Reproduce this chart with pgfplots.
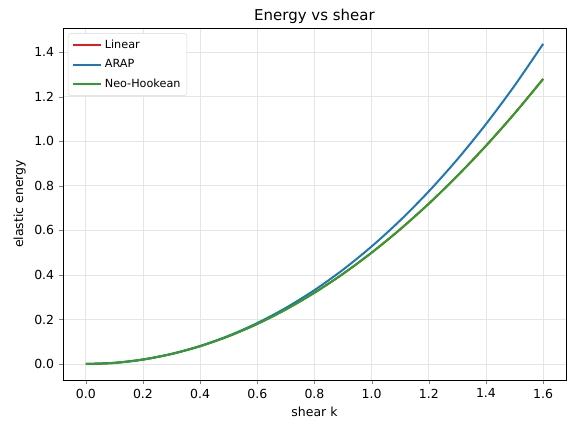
\documentclass[border=0pt]{standalone}
\usepackage{pgfplots}
\pgfplotsset{compat=1.18}
\usepackage{fontspec}
\setmainfont{DejaVu Sans}
\definecolor{mred}{HTML}{E41A1C}
\definecolor{mblue}{HTML}{1F77B4}
\definecolor{mgreen}{HTML}{2CA02C}
\begin{document}
\begin{tikzpicture}
\begin{axis}[
  scale only axis, width=403pt, height=282pt,
  xmin=-0.08, xmax=1.68, ymin=-0.0719, ymax=1.509,
  xtick={0,0.2,...,1.6}, ytick={0,0.2,...,1.4},
  /pgf/number format/.cd, fixed, fixed zerofill, precision=1, assume math mode=true,
  /pgfplots/.cd,
  tick label style={font=\fontsize{10}{12}\selectfont},
  tick align=outside, tick pos=left,
  major tick length=3.5pt,
  grid=major, grid style={gray!20, line width=0.6pt},
  xlabel={shear k}, ylabel={elastic energy},
  label style={font=\fontsize{10}{12}\selectfont},
  title={Energy vs shear}, title style={font=\fontsize{12}{14}\selectfont, yshift=-6pt},
  legend style={font=\fontsize{9}{11}\selectfont, draw=gray!30, rounded corners=2pt, inner sep=3pt, row sep=3.5pt, at={(0.01,0.985)}, anchor=north west},
  legend cell align=left,
  legend image code/.code={\draw[#1] (0cm,0cm) -- (0.8cm,0cm);},
  every axis plot/.append style={line width=1.6pt, smooth},
]
\addplot[mred] coordinates {(0,0)(0.1,0.005)(0.2,0.02)(0.3,0.045)(0.4,0.08)(0.5,0.125)(0.6,0.18)(0.7,0.245)(0.8,0.32)(0.9,0.405)(1.0,0.5)(1.1,0.605)(1.2,0.72)(1.3,0.845)(1.4,0.98)(1.5,1.125)(1.6,1.28)};
\addlegendentry{Linear}
\addplot[mblue] coordinates {(0,0)(0.1,0.005004)(0.2,0.02005)(0.3,0.04525)(0.4,0.080784)(0.5,0.126894)(0.6,0.183878)(0.7,0.252076)(0.8,0.331868)(0.9,0.423658)(1.0,0.527864)(1.1,0.644915)(1.2,0.775238)(1.3,0.919256)(1.4,1.077378)(1.5,1.25)(1.6,1.4375)};
\addlegendentry{ARAP}
\addplot[mgreen] coordinates {(0,0)(0.1,0.005)(0.2,0.02)(0.3,0.045)(0.4,0.08)(0.5,0.125)(0.6,0.18)(0.7,0.245)(0.8,0.32)(0.9,0.405)(1.0,0.5)(1.1,0.605)(1.2,0.72)(1.3,0.845)(1.4,0.98)(1.5,1.125)(1.6,1.28)};
\addlegendentry{Neo-Hookean}
\end{axis}
\path[use as bounding box] (-50.4pt,-41.6pt) rectangle (410.2pt,304.4pt);
\end{tikzpicture}
\end{document}
